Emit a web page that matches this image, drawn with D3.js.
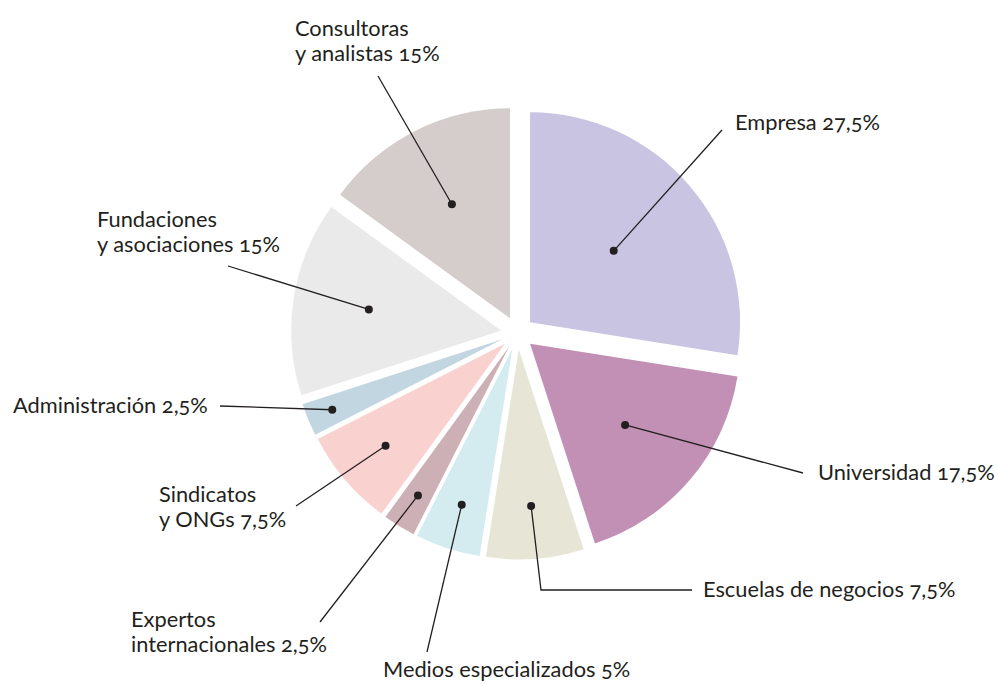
<!DOCTYPE html>
<html>
<head>
<meta charset="utf-8">
<script src="https://cdn.jsdelivr.net/npm/d3@7"></script>
<style>
  body { margin: 0; background: #fff; }
  svg text { font-family: Lato, "Noto Sans", sans-serif; font-size: 21.8px; fill: #231f20; font-variant-numeric: oldstyle-nums; }
</style>
</head>
<body>
<svg id="chart" width="995" height="684"></svg>
<script>
// slices, clockwise from 12 o'clock
const categories = ["Empresa", "Universidad", "Escuelas de negocios", "Medios especializados",
  "Expertos internacionales", "Sindicatos y ONGs", "Administración", "Fundaciones y asociaciones", "Consultoras y analistas"];
const shares = [27.5, 17.5, 7.5, 5, 2.5, 7.5, 2.5, 15, 15];
const sliceColors = ["#c8c4e2", "#c290b4", "#e6e5d6", "#d4ecef", "#cdb0b5", "#f9d2d0", "#c2d6e1", "#e9eae9", "#d5cdcc"];
const labelLines = [
  ["Empresa 27,5%"],
  ["Universidad 17,5%"],
  ["Escuelas de negocios 7,5%"],
  ["Medios especializados 5%"],
  ["Expertos", "internacionales 2,5%"],
  ["Sindicatos", "y ONGs 7,5%"],
  ["Administración 2,5%"],
  ["Fundaciones", "y asociaciones 15%"],
  ["Consultoras", "y analistas 15%"]
];

// label layout: dot distance from slice tip, leader end points, text anchor
const layout = [
  { dot: 110, leader: [[722, 130]], text: [735, 130] },
  { dot: 125, leader: [[803, 473]], text: [818, 480] },
  { dot: 157, leader: [[541, 590], [692, 590]], text: [703, 597] },
  { dot: 164, leader: [[427, 652]], text: [383, 677] },
  { dot: 174, leader: [[320, 622]], text: [131, 627] },
  { dot: 157, leader: [[296, 506]], text: [159, 502] },
  { dot: 184, leader: [[220, 406]], text: [13, 413] },
  { dot: 134, leader: [[228, 266]], text: [97, 227] },
  { dot: 128, leader: [[378, 76]], text: [295, 36] }
];

const width = 995, height = 684;
const cx = 517.5, cy = 333, radius = 210, explode = 16.5;

const svg = d3.select("#chart");
const g = svg.append("g").attr("transform", `translate(${cx},${cy})`);

const pie = d3.pie().sort(null).value(d => d);
const arcs = pie(shares);
const arc = d3.arc().innerRadius(0).outerRadius(radius);

const mid = d => (d.startAngle + d.endAngle) / 2;
const offset = (d, r) => [Math.sin(mid(d)) * r, -Math.cos(mid(d)) * r];

g.selectAll("path.slice")
  .data(arcs)
  .enter()
  .append("path")
  .attr("class", "slice")
  .attr("d", arc)
  .attr("fill", (d, i) => sliceColors[i])
  .attr("transform", d => {
    const [ox, oy] = offset(d, explode);
    return `translate(${ox},${oy})`;
  });

// dot positions in page coordinates
const dots = arcs.map((d, i) => {
  const [ex, ey] = offset(d, explode);
  const [dx, dy] = offset(d, layout[i].dot);
  return [cx + ex + dx, cy + ey + dy];
});

const line = d3.line();
svg.selectAll("path.leader")
  .data(arcs)
  .enter()
  .append("path")
  .attr("class", "leader")
  .attr("d", (d, i) => line([dots[i], ...layout[i].leader]))
  .attr("fill", "none")
  .attr("stroke", "#231f20")
  .attr("stroke-width", 1.3);

svg.selectAll("circle.dot")
  .data(arcs)
  .enter()
  .append("circle")
  .attr("class", "dot")
  .attr("cx", (d, i) => dots[i][0])
  .attr("cy", (d, i) => dots[i][1])
  .attr("r", 4)
  .attr("fill", "#231f20");

const labels = svg.selectAll("text.label")
  .data(labelLines)
  .enter()
  .append("text")
  .attr("class", "label")
  .attr("x", (d, i) => layout[i].text[0])
  .attr("y", (d, i) => layout[i].text[1]);

labels.selectAll("tspan")
  .data((d, i) => d.map(t => ({ t, x: layout[i].text[0] })))
  .enter()
  .append("tspan")
  .attr("x", d => d.x)
  .attr("dy", (d, j) => j === 0 ? 0 : 25)
  .text(d => d.t);
</script>
</body>
</html>
